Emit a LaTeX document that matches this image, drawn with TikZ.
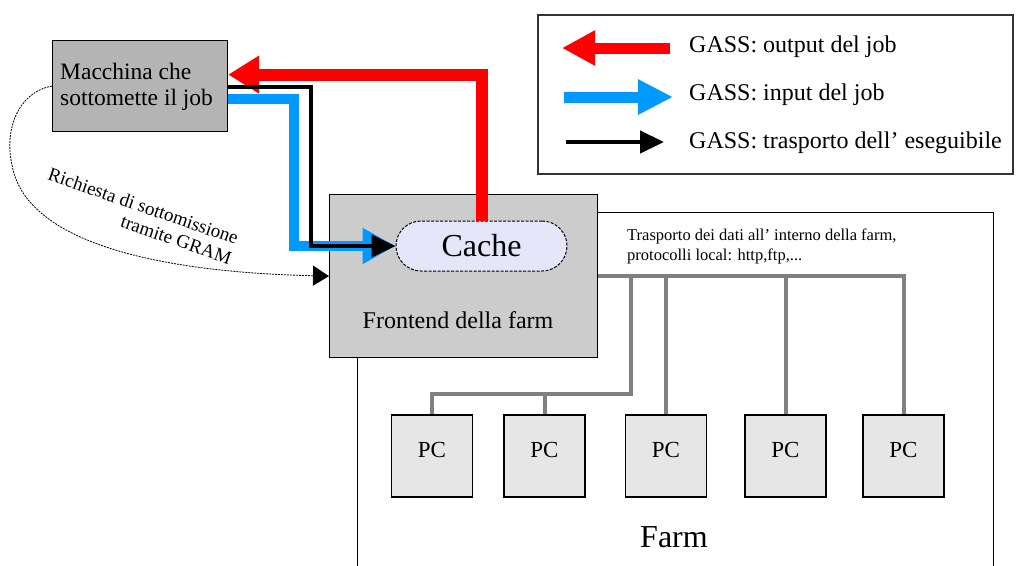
\documentclass[tikz,border=0pt]{standalone}
\usepackage{fontspec}
\setmainfont{Liberation Serif}
\usetikzlibrary{arrows.meta,calc}
\definecolor{jobred}{RGB}{255,0,0}
\definecolor{jobblue}{RGB}{0,153,255}
\definecolor{busgray}{RGB}{128,128,128}
\definecolor{macfill}{RGB}{180,180,180}
\definecolor{fefill}{RGB}{204,204,204}
\definecolor{pcfill}{RGB}{230,230,230}
\definecolor{cachefill}{RGB}{230,230,250}
\begin{document}
\begin{tikzpicture}[x=1pt,y=-1pt,
  box/.style={draw=black, line width=1.2pt, inner sep=0pt},
  redline/.style={draw=jobred, line width=12pt, -{Triangle[length=31pt,width=36pt]}},
  blueline/.style={draw=jobblue, line width=10pt, -{Triangle[length=33pt,width=34pt]}},
  blackline/.style={draw=black, line width=4pt, -{Triangle[length=24pt,width=22pt]}},
  busline/.style={draw=busgray, line width=4pt},
  pcbox/.style={box, fill=pcfill, minimum width=81pt, minimum height=82pt},
  pctext/.style={font=\fontsize{23}{26}\selectfont, inner sep=0pt},
  legtext/.style={anchor=west, inner sep=0pt, font=\fontsize{24}{28}\selectfont}
]
\useasboundingbox (0,0) rectangle (1019,565);
\fill[white] (0,0) rectangle (1019,565);

% farm
\node[box, fill=white, anchor=north west, minimum width=636pt, minimum height=380pt] (farm) at (357,212) {};
\node[font=\fontsize{32}{36}\selectfont, inner sep=0pt] (farmlbl) at (674,537) {Farm};

% PCs
\foreach \i/\x in {1/432,2/544.5,3/666,4/785.5,5/903.5}{
  \node[pcbox] (pc\i) at (\x,456) {};
  \node[pctext] (pcl\i) at ($(pc\i.center)+(0,-6)$) {PC};
}

% frontend
\node[box, fill=fefill, anchor=north west, minimum width=268pt, minimum height=163pt] (fe) at (329,194) {};
\node[font=\fontsize{24}{28}\selectfont, inner sep=0pt] (felbl) at (458,320) {Frontend della farm};

% bus
\coordinate (jn) at (631,276);
\coordinate (jl) at (631,394);
\draw[busline] (fe.east) -| (pc5.north);
\draw[busline] (pc3.north) -- (pc3.north |- fe.east);
\draw[busline] (pc4.north) -- (pc4.north |- fe.east);
\draw[busline] (jn |- fe.east) -- (jl) -| (pc1.north);
\draw[busline] (pc2.north) -- (pc2.north |- jl);

\node[anchor=north west, align=left, inner sep=0pt, font=\fontsize{16.5}{20}\selectfont] (tlbl) at (627,229)
  {Trasporto dei dati all' interno della farm,\\protocolli local: http,ftp,...};

% macchina
\node[box, fill=macfill, anchor=north west, minimum width=175pt, minimum height=91pt] (mac) at (52,40) {};
\node[anchor=west, align=left, inner sep=0pt, font=\fontsize{23.5}{26}\selectfont] (mactxt) at (60,87) {Macchina che\\sottomette il job};

% cache
\node[draw, dash pattern=on 3pt off 1.5pt, line width=1pt, fill=cachefill, rounded corners=25pt,
  minimum width=171pt, minimum height=50pt, inner sep=0pt, font=\fontsize{32}{35}\selectfont] (cache) at (481.5,246) {Cache};

% GASS flows
\coordinate (bl) at (294,246);
\coordinate (bk) at (311,246);
\draw[redline] (cache.north) |- ($(mac.east)+(0,-11.5)$);
\draw[blueline] ($(mac.east)+(0,12.5)$) -| (bl) -- (cache.west);
\draw[blackline] ($(mac.east)+(0,0.5)$) -| (bk) -- (cache.west);

% GRAM request
\draw[line width=0.8pt, dash pattern=on 2pt off 1pt, -{Triangle[length=16pt,width=20pt]}]
  (mac.west) .. controls (18,92) and (4,130) .. (12,165) .. controls (25,240) and (150,272) .. (fe.west);
\node[rotate=-19, align=right, inner sep=0pt, font=\fontsize{19}{21}\selectfont] (gramlbl) at (140,216)
  {Richiesta di sottomissione\\tramite GRAM};

% legend
\node[draw=black!80, line width=1.5pt, anchor=north west, minimum width=475pt, minimum height=159pt] (legend) at (537,14) {};
\coordinate (lra) at (670,48); \coordinate (lrb) at (562,48);
\coordinate (lba) at (564,97); \coordinate (lbb) at (673,97);
\coordinate (lka) at (566,142); \coordinate (lkb) at (664,142);
\draw[draw=jobred, line width=11pt, -{Triangle[length=33pt,width=33pt]}] (lra) -- (lrb);
\draw[draw=jobblue, line width=11pt, -{Triangle[length=35pt,width=33pt]}] (lba) -- (lbb);
\draw[draw=black, line width=4.5pt, -{Triangle[length=24pt,width=22pt]}] (lka) -- (lkb);
\node[legtext] (lt1) at (689,47) {GASS: output del job};
\node[legtext] (lt2) at (689,95) {GASS: input del job};
\node[legtext] (lt3) at (689,143) {GASS: trasporto dell' eseguibile};
\end{tikzpicture}
\end{document}
